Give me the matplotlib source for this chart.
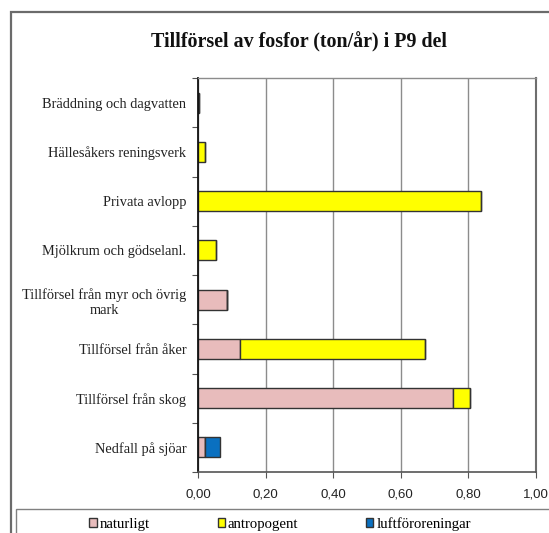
import matplotlib
matplotlib.use("Agg")
import matplotlib.pyplot as plt
from matplotlib.patches import Rectangle
import numpy as np

categories = [
    "Bräddning och dagvatten",
    "Hällesåkers reningsverk",
    "Privata avlopp",
    "Mjölkrum och gödselanl.",
    "Tillförsel från myr och övrig\nmark",
    "Tillförsel från åker",
    "Tillförsel från skog",
    "Nedfall på sjöar",
]
naturligt = [0.0, 0.0, 0.0, 0.0, 0.085, 0.124, 0.755, 0.020]
antropogent = [0.004, 0.020, 0.836, 0.053, 0.0, 0.548, 0.050, 0.0]
luftfororeningar = [0.0, 0.0, 0.0, 0.0, 0.0, 0.0, 0.0, 0.045]
xticks = [0.0, 0.2, 0.4, 0.6, 0.8, 1.0]

serif = ["Liberation Serif", "DejaVu Serif"]
sans = ["Liberation Sans", "DejaVu Sans"]

W, H = 549, 533
fig = plt.figure(figsize=(W / 100, H / 100), dpi=100)
fig.patch.set_facecolor("white")

# outer chart border (cut off at right and bottom)
fig.add_artist(Rectangle((11 / W, -0.1), 1.2, 1 - 12 / H + 0.1, transform=fig.transFigure,
                         fill=False, edgecolor="#6b6b6b", linewidth=1.6))
# legend frame
fig.add_artist(Rectangle((16 / W, -0.1), 1.2, 1 - 509 / H + 0.1, transform=fig.transFigure,
                         fill=False, edgecolor="#808080", linewidth=1.0))

ax = fig.add_axes([198 / W, 1 - 472 / H, 338 / W, 394 / H])

y = np.arange(len(categories))
h = 0.41
nat = np.array(naturligt)
ant = np.array(antropogent)
luf = np.array(luftfororeningar)
b1 = ax.barh(y, nat, height=h, color="#e8bcbc", edgecolor="#333333", linewidth=1.0, label="naturligt")
b2 = ax.barh(y, ant, left=nat, height=h, color="#ffff00", edgecolor="#333333", linewidth=1.0, label="antropogent")
b3 = ax.barh(y, luf, left=nat + ant, height=h, color="#0a70c0", edgecolor="#333333", linewidth=1.0, label="luftföroreningar")

ax.set_xlim(0, 1.0)
ax.set_ylim(len(categories) - 0.5, -0.5)
ax.set_xticks(xticks)
ax.set_xticklabels([f"{v:.2f}".replace(".", ",") for v in xticks], fontfamily=sans, fontsize=9.5, color="#222222")
ax.tick_params(axis="x", length=4, width=0.8, color="#555555", pad=8)

ax.set_yticks(y)
ax.set_yticklabels(categories, fontfamily=serif, fontsize=10.4, color="#222222",
                   multialignment="center", linespacing=1.25)
ax.tick_params(axis="y", which="major", length=0, pad=8.5)
ax.set_yticks(np.arange(-0.5, len(categories) + 0.5, 1), minor=True)
ax.tick_params(axis="y", which="minor", length=4, width=0.8, color="#555555", direction="out")

ax.grid(axis="x", color="#8c8c8c", linewidth=1.0)
ax.set_axisbelow(True)
for side in ["top", "right"]:
    ax.spines[side].set_color("#8c8c8c")
    ax.spines[side].set_linewidth(1.0)
ax.spines["right"].set_color("#6e6e6e")
ax.spines["right"].set_linewidth(1.5)
ax.spines["left"].set_color("#111111")
ax.spines["left"].set_linewidth(1.3)
ax.spines["bottom"].set_color("#555555")
ax.spines["bottom"].set_linewidth(1.2)

fig.text(299 / W, 1 - 42 / H, "Tillförsel av fosfor (ton/år) i P9 del", ha="center", va="center",
         fontfamily=serif, fontsize=14.4, fontweight="bold", color="#111111")

fig.legend(handles=[b1, b2, b3], loc="center left", bbox_to_anchor=(82 / W, 1 - 524 / H),
           ncol=3, frameon=False, prop={"family": serif, "size": 10.6},
           handlelength=0.5, handleheight=0.5, handletextpad=0.2, columnspacing=4.6, borderpad=0)

fig.savefig("out.png", dpi=100)
